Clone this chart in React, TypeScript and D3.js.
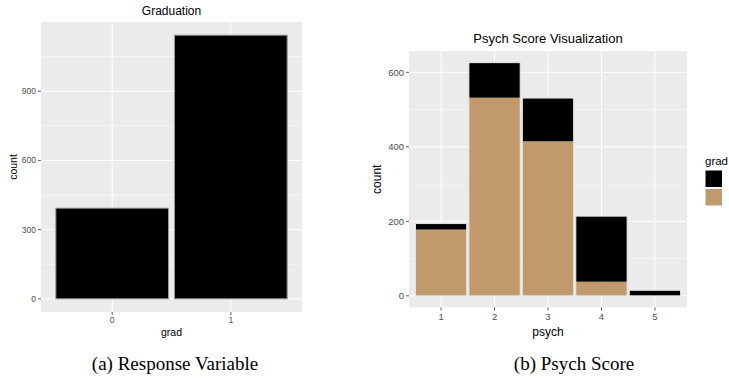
import React from 'react';
import * as d3 from 'd3';

// panel (a): graduation counts
const gradCats = ['0', '1'];
const gradCounts = [393, 1143];
const gradTicks = [0, 300, 600, 900];
const gradMinor = [150, 450, 750, 1050];

// panel (b): psych score, stacked by grad
const psychCats = ['1', '2', '3', '4', '5'];
const psychGrad0 = [16, 94, 116, 176, 15];
const psychGrad1 = [178, 532, 415, 38, 0];
const psychTicks = [0, 200, 400, 600];
const psychMinor = [100, 300, 500];

const BG = '#EBEBEB';
const TAN = '#C19A6B';
const SANS = '"Liberation Sans", Arial, sans-serif';
const SERIF = '"Liberation Serif", "Times New Roman", serif';

function Panel({ left, right, top, bottom, cats, y, ticks, minor, children, tickSize }) {
  // ggplot discrete expansion: 0.6 units beyond outer category centres
  const x = d3.scaleBand().domain(cats).range([left, right]).paddingOuter(0.1).paddingInner(0);
  return (
    <g>
      <rect x={left} y={top} width={right - left} height={bottom - top} fill={BG} />
      {minor.map(v => (
        <line key={'m' + v} x1={left} x2={right} y1={y(v)} y2={y(v)} stroke="#fff" strokeWidth={0.5} />
      ))}
      {ticks.map(v => (
        <line key={'g' + v} x1={left} x2={right} y1={y(v)} y2={y(v)} stroke="#fff" strokeWidth={1} />
      ))}
      {cats.map(c => {
        const cx = x(c) + x.bandwidth() / 2;
        return <line key={'v' + c} x1={cx} x2={cx} y1={top} y2={bottom} stroke="#fff" strokeWidth={1} />;
      })}
      {children(x)}
      {ticks.map(v => (
        <g key={'t' + v}>
          <line x1={left - 3} x2={left} y1={y(v)} y2={y(v)} stroke="#333" strokeWidth={0.8} />
          <text x={left - 5} y={y(v)} dy="0.35em" textAnchor="end" fill="#4D4D4D"
            style={{ fontFamily: SANS, fontSize: tickSize }}>{v}</text>
        </g>
      ))}
      {cats.map(c => {
        const cx = x(c) + x.bandwidth() / 2;
        return (
          <g key={'xt' + c}>
            <line x1={cx} x2={cx} y1={bottom} y2={bottom + 3} stroke="#333" strokeWidth={0.8} />
            <text x={cx} y={bottom + 5 + tickSize * 0.75} textAnchor="middle" fill="#4D4D4D"
              style={{ fontFamily: SANS, fontSize: tickSize }}>{c}</text>
          </g>
        );
      })}
    </g>
  );
}

export default function App() {
  const aL = 41, aR = 302, aT = 22, aB = 312;
  const aMax = d3.max(gradCounts);
  const yA = d3.scaleLinear().domain([-aMax * 0.05, aMax * 1.05]).range([aB, aT]);

  const bL = 409, bR = 687, bT = 51, bB = 307.5;
  const totals = psychGrad0.map((v, i) => v + psychGrad1[i]);
  const bMax = d3.max(totals);
  const yB = d3.scaleLinear().domain([-bMax * 0.05, bMax * 1.05]).range([bB, bT]);

  const stacked = d3.stack().keys(['g1', 'g0'])(
    psychCats.map((c, i) => ({ cat: c, g0: psychGrad0[i], g1: psychGrad1[i] }))
  );

  return (
    <div style={{ position: 'fixed', left: 0, top: 0 }}>
      <svg width={729} height={381} style={{ display: 'block', background: '#fff' }}>
        {/* (a) Graduation */}
        <Panel left={aL} right={aR} top={aT} bottom={aB} cats={gradCats} y={yA}
          ticks={gradTicks} minor={gradMinor} tickSize={8.5}>
          {x => gradCats.map((c, i) => {
            const w = x.bandwidth() * 0.95;
            const x0 = x(c) + (x.bandwidth() - w) / 2;
            return (
              <rect key={c} x={x0} y={yA(gradCounts[i])} width={w}
                height={yA(0) - yA(gradCounts[i])} fill="#000" stroke="#999" strokeWidth={1} />
            );
          })}
        </Panel>
        <text x={(aL + aR) / 2} y={15} textAnchor="middle" fill="#000"
          style={{ fontFamily: SANS, fontSize: 12 }}>Graduation</text>
        <text x={(aL + aR) / 2} y={336} textAnchor="middle" fill="#000"
          style={{ fontFamily: SANS, fontSize: 10.5 }}>grad</text>
        <text transform={`translate(17,${(aT + aB) / 2}) rotate(-90)`} textAnchor="middle" fill="#000"
          style={{ fontFamily: SANS, fontSize: 10.5 }}>count</text>

        {/* (b) Psych Score */}
        <Panel left={bL} right={bR} top={bT} bottom={bB} cats={psychCats} y={yB}
          ticks={psychTicks} minor={psychMinor} tickSize={9.5}>
          {x => (
            <g>
              {stacked.map(layer => layer.map((d, i) => {
                const w = x.bandwidth() * 0.96;
                const x0 = x(psychCats[i]) + (x.bandwidth() - w) / 2;
                if (d[1] - d[0] <= 0) return null;
                return (
                  <rect key={layer.key + i} x={x0} y={yB(d[1])} width={w}
                    height={yB(d[0]) - yB(d[1])} fill={layer.key === 'g0' ? '#000' : TAN} />
                );
              }))}
              {totals.map((t, i) => {
                const w = x.bandwidth() * 0.96;
                const x0 = x(psychCats[i]) + (x.bandwidth() - w) / 2;
                return (
                  <rect key={'o' + i} x={x0} y={yB(t)} width={w} height={yB(0) - yB(t)}
                    fill="none" stroke="#e6e6e6" strokeWidth={1} />
                );
              })}
            </g>
          )}
        </Panel>
        <text x={(bL + bR) / 2} y={42.6} textAnchor="middle" fill="#000"
          style={{ fontFamily: SANS, fontSize: 13 }}>Psych Score Visualization</text>
        <text x={(bL + bR) / 2} y={336} textAnchor="middle" fill="#000"
          style={{ fontFamily: SANS, fontSize: 12 }}>psych</text>
        <text transform={`translate(381,${(bT + bB) / 2}) rotate(-90)`} textAnchor="middle" fill="#000"
          style={{ fontFamily: SANS, fontSize: 12 }}>count</text>

        {/* legend */}
        <text x={705} y={165} fill="#000" style={{ fontFamily: SANS, fontSize: 11.5 }}>grad</text>
        <rect x={705} y={170} width={17.5} height={17.5} fill="#000" stroke="#fff" strokeWidth={1} />
        <rect x={705} y={188.5} width={17.5} height={17.5} fill={TAN} stroke="#fff" strokeWidth={1} />

        {/* captions */}
        <text x={175} y={370} textAnchor="middle" fill="#000"
          style={{ fontFamily: SERIF, fontSize: 19 }}>(a) Response Variable</text>
        <text x={574} y={370} textAnchor="middle" fill="#000"
          style={{ fontFamily: SERIF, fontSize: 19 }}>(b) Psych Score</text>
      </svg>
    </div>
  );
}
